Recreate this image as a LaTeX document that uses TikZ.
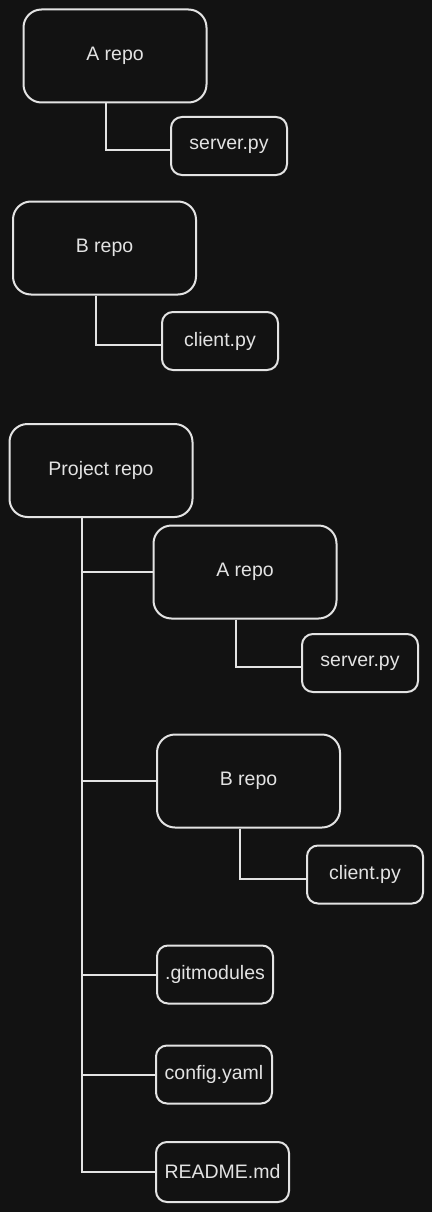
\documentclass[tikz,border=0pt]{standalone}
\usepackage{fontspec}
\setmainfont{Liberation Sans}
\usetikzlibrary{positioning}
\definecolor{cbg}{HTML}{121212}
\definecolor{cline}{HTML}{E3E3E3}
\tikzset{
  every picture/.style={line width=2pt},
  repobox/.style={draw=cline, fill=cbg, rounded corners=18pt, minimum width=183pt, minimum height=93pt, text=cline},
  filebox/.style={draw=cline, fill=cbg, rounded corners=11pt, minimum width=116pt, minimum height=58pt, text=cline},
  link/.style={draw=cline, line width=2pt},
}

\begin{document}
\begin{tikzpicture}[x=1pt, y=-1pt, every node/.append style={font=\fontsize{19.5}{22}\selectfont}]
  \fill[cbg] (0,0) rectangle (432,1212);
  \useasboundingbox (0,0) rectangle (432,1212);
  % two separate repos
  \node[repobox] (arepo) at (115,56) {A repo};
  \node[filebox] (srv) at (229,146) {server.py};
  \node[repobox] (brepo) at (104.5,248) {B repo};
  \node[filebox] (cli) at (220,341) {client.py};
  % project repo with submodules
  \node[repobox] (proj) at (101,470.5) {Project repo};
  \node[repobox] (parepo) at (245,572) {A repo};
  \node[filebox] (psrv) at (360,663) {server.py};
  \node[repobox] (pbrepo) at (248.5,781) {B repo};
  \node[filebox] (pcli) at (365,874.5) {client.py};
  \node[filebox] (gitmod) at (215,974.5) {.gitmodules};
  \node[filebox] (config) at (214,1074.5) {config.yaml};
  \node[filebox, minimum width=133pt, minimum height=60pt] (readme) at (222.5,1172) {README.md};
  \foreach \u/\v in {arepo/srv,brepo/cli,parepo/psrv,pbrepo/pcli}
    \draw[link] ([xshift=-9pt]\u.south) |- ([yshift=-4pt]\v.west);
  \foreach \v in {parepo,pbrepo,gitmod,config,readme}
    \draw[link] ([xshift=-19pt]proj.south) |- (\v.west);
\end{tikzpicture}
\end{document}
